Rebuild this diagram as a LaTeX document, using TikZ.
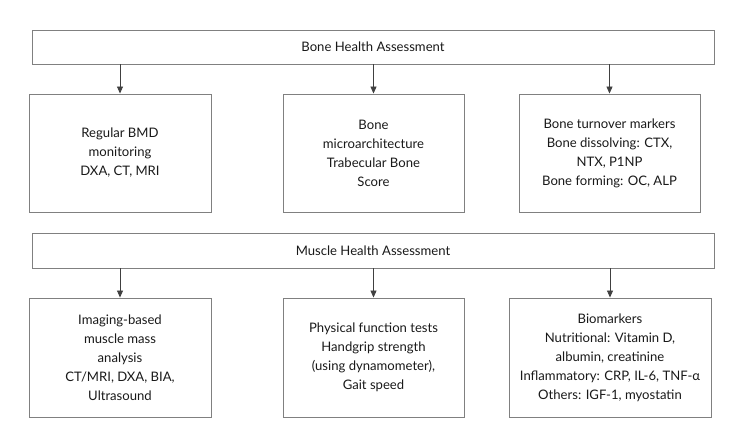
\documentclass[tikz,border=0pt]{standalone}
\usepackage{fontspec}
\setmainfont{Lato}
\usetikzlibrary{arrows.meta}
\begin{document}
\begin{tikzpicture}[x=1pt,y=-1pt,
  box/.style={draw=black!50,line width=0.9pt,align=center,inner sep=0pt,
    font=\fontsize{13.1}{19}\selectfont,text=black!90},
  conn/.style={draw=black!75,line width=0.9pt,-{Triangle[length=7pt,width=6pt]}}]
\useasboundingbox (0,0) rectangle (742,446);
\node[box,minimum width=682pt,minimum height=34pt] (bone) at (373,47) {Bone Health Assessment};
\node[box,minimum width=182pt,minimum height=118pt] (b1) at (120,153) {Regular BMD\\monitoring\\DXA, CT, MRI};
\node[box,minimum width=181pt,minimum height=118pt] (b2) at (373.5,153) {Bone\\microarchitecture\\Trabecular Bone\\Score};
\node[box,minimum width=181pt,minimum height=118pt] (b3) at (609.5,153) {Bone turnover markers\\Bone dissolving: CTX,\\NTX, P1NP\\Bone forming: OC, ALP};
\node[box,minimum width=682pt,minimum height=35pt] (muscle) at (373,250.5) {Muscle Health Assessment};
\node[box,minimum width=182pt,minimum height=119pt] (m1) at (120,357.5) {Imaging-based\\muscle mass\\analysis\\CT/MRI, DXA, BIA,\\Ultrasound};
\node[box,minimum width=181pt,minimum height=119pt] (m2) at (373.5,357.5) {Physical function tests\\Handgrip strength\\(using dynamometer),\\Gait speed};
\node[box,minimum width=202pt,minimum height=119pt] (m3) at (610,357.5) {Biomarkers\\Nutritional: Vitamin D,\\albumin, creatinine\\Inflammatory: CRP, IL-6, TNF-α\\Others: IGF-1, myostatin};
\foreach \t in {b1,b2,b3} \draw[conn] (\t.north |- bone.south) -- (\t.north);
\foreach \t in {m1,m2,m3} \draw[conn] (\t.north |- muscle.south) -- (\t.north);
\end{tikzpicture}
\end{document}
